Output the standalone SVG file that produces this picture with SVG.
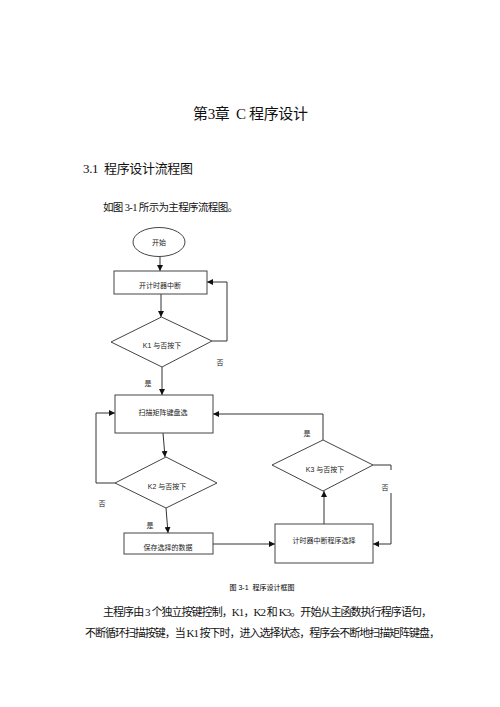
<svg xmlns="http://www.w3.org/2000/svg" width="500" height="707" viewBox="0 0 500 707">
<style>
.body{font-family:"Liberation Serif","Noto Sans CJK SC",serif;fill:#111;white-space:pre}
.fc{font-family:"Liberation Sans","Noto Sans CJK SC",sans-serif;font-size:7px;fill:#222;text-anchor:middle;white-space:pre}
.shape{fill:#fff;stroke:#444;stroke-width:1}
.ln{fill:none;stroke:#333;stroke-width:1}
</style>
<defs>
<marker id="ah" viewBox="0 0 10 10" refX="10" refY="5" markerWidth="6" markerHeight="6" orient="auto" markerUnits="userSpaceOnUse">
<path d="M0,0 L10,5 L0,10 z" fill="#111"/>
</marker>
</defs>
<rect width="500" height="707" fill="#fff"/>
<text class="body" x="193" y="119" font-size="15" textLength="115" lengthAdjust="spacing">第3章  C 程序设计</text>
<text class="body" x="83" y="173" font-size="13" textLength="110" lengthAdjust="spacing">3.1  程序设计流程图</text>
<text class="body" x="103" y="211" font-size="10.5" textLength="135" lengthAdjust="spacing">如图 3-1 所示为主程序流程图。</text>

<g id="connectors">
<path class="ln" d="M160,257 V271" marker-end="url(#ah)"/>
<path class="ln" d="M161,294 V317" marker-end="url(#ah)"/>
<path class="ln" d="M212,341 H227 V282 H207" marker-end="url(#ah)"/>
<path class="ln" d="M162,367 V395" marker-end="url(#ah)"/>
<path class="ln" d="M163,433 L165,457" marker-end="url(#ah)"/>
<path class="ln" d="M115,483 H96 V413 H115" marker-end="url(#ah)"/>
<path class="ln" d="M166,508 L168,533" marker-end="url(#ah)"/>
<path class="ln" d="M213,544 H275" marker-end="url(#ah)"/>
<path class="ln" d="M324,524 V491" marker-end="url(#ah)"/>
<path class="ln" d="M323,440 V414 H213" marker-end="url(#ah)"/>
<path class="ln" d="M373,465 H391 V470"/>
<path class="ln" d="M391,493 V544 H373" marker-end="url(#ah)"/>
<text class="fc" x="220" y="365" font-size="7.5">否</text>
<text class="fc" x="148" y="386" font-size="7.5">是</text>
<text class="fc" x="102" y="506" font-size="7.5">否</text>
<text class="fc" x="150" y="528" font-size="7.5">是</text>
<text class="fc" x="307" y="436" font-size="7.5">是</text>
<text class="fc" x="385" y="490" font-size="7.5">否</text>
</g>

<g id="start">
<ellipse class="shape" cx="159" cy="242" rx="26" ry="14.5"/>
<text class="fc" x="159" y="245">开始</text>
</g>
<g id="timer">
<rect class="shape" x="114" y="271" width="93" height="23"/>
<text class="fc" x="160" y="288">开计时器中断</text>
</g>
<g id="k1">
<polygon class="shape" points="161.5,317 212,341 162,367 111,342"/>
<text class="fc" x="162" y="348">K1 与否按下</text>
</g>
<g id="scan">
<rect class="shape" x="115" y="395" width="98" height="38"/>
<text class="fc" x="163" y="415">扫描矩阵键盘选</text>
</g>
<g id="k2">
<polygon class="shape" points="166,457 217,483 166,508 115,483"/>
<text class="fc" x="167" y="489">K2 与否按下</text>
</g>
<g id="save">
<rect class="shape" x="124" y="533" width="89" height="21"/>
<text class="fc" x="168" y="550">保存选择的数据</text>
</g>
<g id="k3">
<polygon class="shape" points="323,440 373,465 323,491 272,465"/>
<text class="fc" x="325" y="472">K3 与否按下</text>
</g>
<g id="select">
<rect class="shape" x="275" y="524" width="98" height="39"/>
<text class="fc" x="324" y="543">计时器中断程序选择</text>
</g>

<text class="fc" x="262" y="590" font-size="9" style="fill:#000">图 3-1  程序设计框图</text>
<text class="body" x="103" y="616" font-size="11" textLength="329" lengthAdjust="spacing">主程序由 3 个独立按键控制，K1，K2 和 K3。开始从主函数执行程序语句，</text>
<text class="body" x="85" y="637" font-size="11" textLength="355" lengthAdjust="spacing">不断循环扫描按键，当 K1 按下时，进入选择状态，程序会不断地扫描矩阵键盘，</text>
</svg>
